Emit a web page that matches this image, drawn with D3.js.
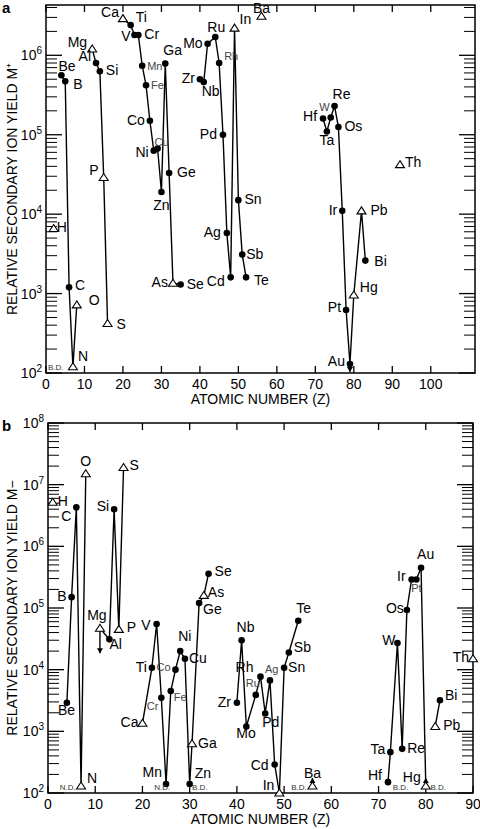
<!DOCTYPE html>
<html>
<head>
<meta charset="utf-8">
<script src="https://d3js.org/d3.v7.min.js"></script>
<style>
body { margin: 0; background: white; }
text { font-family: "Liberation Sans", Arial, sans-serif; }
</style>
</head>
<body>
<svg id="chart" width="480" height="829"></svg>
<script>
// ---- panel a : positive ions ----
var namesA = ['H','Be','B','C','N','O','Mg','Al','Si','P','S','Ca','Ti','V','Cr','Mn','Fe','Co','Ni','Cu','Zn','Ga','Ge','As','Se',
  'Zr','Nb','Mo','Ru','Rh','Pd','Ag','Cd','In','Sn','Sb','Te','Ba','Hf','Ta','W','Re','Os','Ir','Pt','Au','Hg','Pb','Bi','Th'];
var zA = [2,4,5,6,7,8,12,13,14,15,16,20,22,23,24,25,26,27,28,29,30,31,32,33,35,
  40,41,42,44,45,46,47,48,49,50,51,52,56,72,73,74,75,76,77,78,79,80,82,83,92];
var yieldA = [6.6e3,5.6e5,4.7e5,1.2e3,1.2e2,7.2e2,1.2e6,8e5,6.3e5,2.9e4,4.2e2,2.9e6,2.4e6,1.8e6,1.8e6,7.4e5,4.2e5,1.5e5,6.3e4,6.7e4,1.9e4,7.9e5,3.3e4,1.35e3,1.3e3,
  5e5,4.6e5,1.4e6,1.7e6,8e5,1e5,5.8e3,1.6e3,2.2e6,1.5e4,3.1e3,1.6e3,3.1e6,1.6e5,1.1e5,1.65e5,2.3e5,1.25e5,1.1e4,6.2e2,1.3e2,9.6e2,1.1e4,2.6e3,4.2e4];
var triA = ['H','N','O','Mg','P','S','Ca','As','In','Ba','Hg','Pb','Th'];
var chainsA = [['Be','B','C','N','O'],['Mg','Al','Si','P','S'],
  ['Ca','Ti','V','Cr','Mn','Fe','Co','Ni','Cu','Zn','Ga','Ge','As','Se'],
  ['Zr','Nb','Mo','Ru','Rh','Pd','Ag','Cd','In','Sn','Sb','Te'],
  ['Hf','Ta','W','Re','Os','Ir','Pt','Au','Hg','Pb','Bi']];
var smallA = ['Mn','Fe','Cu','Rh','W'];

// ---- panel b : negative ions ----
var namesB = ['H','Be','B','C','N','O','Mg','Al','Si','P','S','Ca','Ti','V','Cr','Mn','Fe','Co','Ni','Cu','Zn','Ga','Ge','As','Se',
  'Zr','Nb','Mo','Ru','Rh','Pd','Ag','Cd','In','Sn','Sb','Te','Ba','Hf','Ta','W','Re','Os','Ir','Pt','Au','Hg','Pb','Bi','Th'];
var zB = [1,4,5,6,7,8,11,13,14,15,16,20,22,23,24,25,26,27,28,29,30,30.5,32,33,34,
  40,41,42,44,45,46,47,48,49,50,51,53,56,72,72.5,74,75,76,77,78,79,80,82,83,90];
var yieldB = [5.2e6,2.9e3,1.5e5,4.3e6,1.3e2,1.5e7,4.7e4,3.1e4,4e6,4.5e4,1.9e7,1.35e3,1.07e4,5.5e4,3.5e3,1.4e2,4.5e3,1e4,2e4,1.5e4,1.4e2,6.3e2,1.2e5,1.6e5,3.6e5,
  2.9e3,3e4,1.2e3,3.9e3,7.7e3,1.95e3,6.7e3,2.9e2,1e2,1.07e4,1.9e4,6.2e4,1.3e2,1.5e2,4.6e2,2.7e4,5.2e2,9.3e4,2.9e5,2.9e5,4.5e5,1.3e2,1.2e3,3.2e3,1.5e4];
var triB = ['H','N','O','Mg','P','S','Ca','Ga','As','In','Ba','Hg','Pb','Th'];
var chainsB = [['Be','B','C','N','O'],['Mg','Al','Si','P','S'],
  ['Ca','Ti','V','Cr','Mn','Fe','Co','Ni','Cu','Zn','Ga','Ge','As','Se'],
  ['Zr','Nb','Mo','Ru','Rh','Pd','Ag','Cd','In','Sn','Sb','Te'],
  ['Hf','Ta','W','Re','Os','Ir','Pt','Au','Hg'],['Pb','Bi']];
var smallB = ['Cr','Fe','Co','Ru','Ag','Pt'];

var xTicksA = [0,10,20,30,40,50,60,70,80,90,100];
var xTicksB = [0,10,20,30,40,50,60,70,80,90];

// label placement [dx, dy, anchor]
var labA = {H:[3,4],Be:[-3,-4],B:[8,8],C:[6,3],N:[5,-6],O:[12,0],Mg:[-5,-2,'end'],Al:[-5,-2,'end'],Si:[6,4],P:[-5,-2,'end'],S:[9,5],
  Ca:[-4,-2,'end'],Ti:[5,-3],V:[-4,6,'end'],Cr:[6,4],Mn:[5,4],Fe:[5,4],Co:[-5,4,'end'],Ni:[-5,6,'end'],Cu:[-3,-3],Zn:[0,18,'middle'],
  Ga:[-2,-8],Ge:[8,4],As:[-5,4,'end'],Se:[6,4],Zr:[-5,4,'end'],Nb:[-2,14],Mo:[-5,4,'end'],Ru:[-8,-5],Rh:[5,-3],Pd:[-6,4,'end'],
  Ag:[-6,4,'end'],Cd:[-6,9,'end'],In:[5,-4],Sn:[6,4],Sb:[4,4],Te:[8,8],Ba:[0,-3,'middle'],Hf:[-6,2,'end'],W:[-1,-6,'end'],
  Ta:[0,14,'middle'],Re:[-2,-7],Os:[6,4],Ir:[-5,4,'end'],Pt:[-5,2,'end'],Au:[-5,2,'end'],Hg:[6,-3],Pb:[9,4],Bi:[9,5],Th:[5,2]};
var labB = {H:[5,4],C:[-5,14,'end'],B:[-5,4,'end'],Be:[-9,12],N:[6,-3],O:[0,-8,'middle'],Mg:[-3,-8,'middle'],Al:[0,10],Si:[-5,2,'end'],
  P:[8,3],S:[6,3],Ca:[-4,4,'end'],Ti:[-5,4,'end'],V:[-6,6,'end'],Cr:[-3,12,'end'],Mn:[-4,-7,'end'],Fe:[3,10],Co:[-5,1,'end'],
  Ni:[-2,-10],Cu:[4,4],Zn:[5,-6],Ga:[6,4],Ge:[4,11],As:[4,2],Se:[6,2],Zr:[-6,4,'end'],Nb:[-5,-8],Mo:[-10,12],Ru:[-10,-8],
  Rh:[-7,-5,'end'],Ag:[-5,-7],Pd:[-3,14],Cd:[-6,6,'end'],In:[-5,-3,'end'],Sn:[4,4],Sb:[5,0],Te:[-2,-8],Ba:[0,-8,'middle'],
  Hf:[-6,-2,'end'],Ta:[-5,2,'end'],W:[-2,2,'end'],Re:[5,4],Os:[-3,3,'end'],Ir:[-6,2,'end'],Pt:[0,13,'middle'],Au:[-4,-9],
  Hg:[-5,-4,'end'],Bi:[5,0],Pb:[8,4],Th:[-4,3,'end']};

var svg = d3.select('#chart');

function panel(o) {
  var x = d3.scaleLinear().domain(o.xd).range([o.l, o.r]);
  var y = d3.scaleLog().domain(o.yd).range([o.b, o.t]);
  var g = svg.append('g');
  // frame
  g.append('rect').attr('x', o.l).attr('y', o.t).attr('width', o.r - o.l).attr('height', o.b - o.t)
    .attr('fill', 'none').attr('stroke', 'black').attr('stroke-width', 1.5);
  // x ticks (bottom + top, inside)
  o.xt.forEach(function(t) {
    g.append('line').attr('x1', x(t)).attr('x2', x(t)).attr('y1', o.b).attr('y2', o.b - 7).attr('stroke', 'black').attr('stroke-width', 1.3);
    g.append('line').attr('x1', x(t)).attr('x2', x(t)).attr('y1', o.t).attr('y2', o.t + 7).attr('stroke', 'black').attr('stroke-width', 1.3);
    g.append('text').attr('x', x(t)).attr('y', o.b + 16).attr('text-anchor', 'middle').attr('font-size', 14).text(t);
  });
  // y ticks, log major + minor
  var e0 = Math.round(Math.log10(o.yd[0])), e1 = Math.ceil(Math.log10(o.yd[1]));
  for (var e = e0; e <= e1; e++) {
    for (var m = 1; m < 10; m++) {
      var v = m * Math.pow(10, e);
      if (v < o.yd[0] || v > o.yd[1]) continue;
      var len = m == 1 ? 16 : 11;
      [[o.l, 1], [o.r, -1]].forEach(function(s) {
        g.append('line').attr('x1', s[0]).attr('x2', s[0] + s[1] * len).attr('y1', y(v)).attr('y2', y(v))
          .attr('stroke', 'black').attr('stroke-width', m == 1 ? 1.3 : 1);
      });
    }
    if (Math.pow(10, e) >= o.yd[0] && Math.pow(10, e) <= o.yd[1]) {
      var tx = g.append('text').attr('x', o.l - 4).attr('y', y(Math.pow(10, e)) + 5).attr('text-anchor', 'end').attr('font-size', 14);
      tx.append('tspan').text('10');
      tx.append('tspan').attr('dy', -6).attr('font-size', 10).text(e);
    }
  }
  g.append('text').attr('x', (o.l + o.r) / 2).attr('y', o.b + 31).attr('text-anchor', 'middle').attr('font-size', 14).text('ATOMIC NUMBER (Z)');
  g.append('text').attr('transform', 'translate(17,' + (o.t + o.b) / 2 + ') rotate(-90)').attr('text-anchor', 'middle')
    .attr('font-size', 14).text(o.ylab);
  g.append('text').attr('x', 2).attr('y', o.t + 8).attr('font-size', 15).attr('font-weight', 'bold').text(o.tag);

  var pt = {};
  o.names.forEach(function(n, i) { pt[n] = [x(o.z[i]), y(o.v[i])]; });
  var line = d3.line();
  o.chains.forEach(function(c) {
    g.append('path').attr('d', line(c.map(function(n) { return pt[n]; }))).attr('fill', 'none').attr('stroke', 'black').attr('stroke-width', 1.4);
  });
  // arrows
  (o.arrows || []).forEach(function(a) {
    var p = pt[a[0]], y2 = p[1] + a[1];
    g.append('line').attr('x1', p[0]).attr('x2', p[0]).attr('y1', p[1]).attr('y2', y2).attr('stroke', 'black').attr('stroke-width', 1.4);
    var s = a[1] > 0 ? 1 : -1;
    g.append('path').attr('d', 'M' + (p[0] - 3) + ',' + (y2 - 5 * s) + 'L' + p[0] + ',' + y2 + 'L' + (p[0] + 3) + ',' + (y2 - 5 * s) + 'Z').attr('fill', 'black');
  });
  o.names.forEach(function(n) {
    var p = pt[n];
    if (o.tri.indexOf(n) >= 0) {
      g.append('path').attr('d', 'M' + p[0] + ',' + (p[1] - 4) + 'L' + (p[0] + 4.5) + ',' + (p[1] + 3) + 'L' + (p[0] - 4.5) + ',' + (p[1] + 3) + 'Z')
        .attr('fill', 'white').attr('stroke', 'black').attr('stroke-width', 1.1);
    } else {
      g.append('circle').attr('cx', p[0]).attr('cy', p[1]).attr('r', 3.3).attr('fill', 'black');
    }
    var lb = o.lab[n] || [5, 4];
    var small = o.small.indexOf(n) >= 0;
    g.append('text').attr('x', p[0] + lb[0]).attr('y', p[1] + lb[1]).attr('text-anchor', lb[2] || 'start')
      .attr('font-size', small ? 11 : 14).attr('fill', small ? '#444' : 'black').text(n);
  });
  (o.notes || []).forEach(function(nt) {
    g.append('text').attr('x', x(nt[0])).attr('y', o.b - 3).attr('font-size', 8).attr('fill', '#333').text(nt[1]);
  });
}

panel({l: 46, r: 475, t: 5, b: 373, xd: [0, 111.5], yd: [100, 4.3e6], xt: xTicksA,
  names: namesA, z: zA, v: yieldA, tri: triA, chains: chainsA, lab: labA, small: smallA,
  ylab: 'RELATIVE SECONDARY ION YIELD M\u207A', tag: 'a', arrows: [['Au', 8]], notes: [[0.5, 'B.D.']]});

panel({l: 48, r: 473, t: 423, b: 793, xd: [0, 90], yd: [100, 1e8], xt: xTicksB,
  names: namesB, z: zB, v: yieldB, tri: triB, chains: chainsB, lab: labB, small: smallB,
  ylab: 'RELATIVE SECONDARY ION YIELD M\u2212', tag: 'b',
  arrows: [['Mg', 25], ['Ba', -8], ['Hg', -8]],
  notes: [[2.5, 'N.D.'], [22.5, 'N.D.'], [30.5, 'B.D.'], [51.5, 'B.D.'], [73, 'B.D.'], [81, 'B.D.']]});
</script>
</body>
</html>
